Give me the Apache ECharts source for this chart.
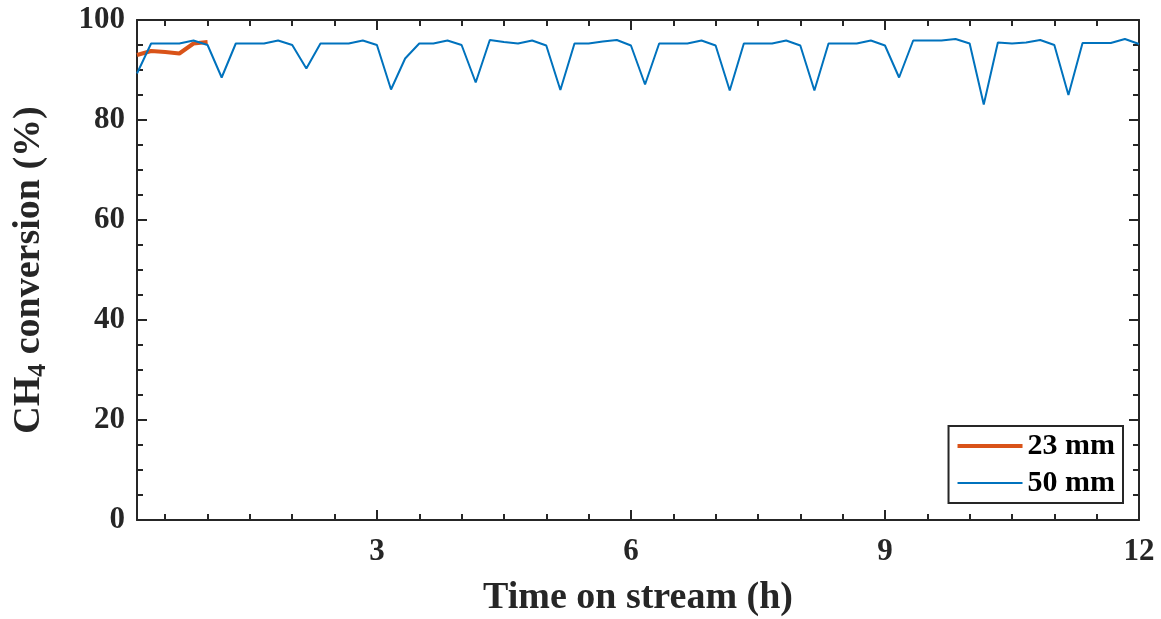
<!DOCTYPE html>
<html>
<head>
<meta charset="utf-8">
<script src="https://cdn.jsdelivr.net/npm/echarts@6/dist/echarts.min.js"></script>
<style>html,body{margin:0;padding:0;background:#fff;}#c{width:1161px;height:619px;}</style>
</head>
<body>
<div id="c"></div>
<script>
// Time on stream, minutes (sampled every 10 min)
const timeMin = [10,20,30,40,50,60,70,80,90,100,110,120,130,140,150,160,170,180,
  190,200,210,220,230,240,250,260,270,280,290,300,310,320,330,340,350,360,
  370,380,390,400,410,420,430,440,450,460,470,480,490,500,510,520,530,540,
  550,560,570,580,590,600,610,620,630,640,650,660,670,680,690,700,710,720];
const time23Min = [10,20,30,40,50,60];
// CH4 conversion (%)
const conv23 = [93.0,93.8,93.6,93.3,95.3,95.6];
const conv50 = [89.3,95.3,95.3,95.3,95.9,95.0,
  88.5,95.3,95.3,95.3,95.9,95.0,
  90.3,95.3,95.3,95.3,95.9,95.0,
  86.1,92.3,95.3,95.3,95.9,95.0,
  87.5,96.0,95.6,95.3,95.9,94.9,
  86.0,95.3,95.3,95.7,96.0,94.9,
  87.1,95.3,95.3,95.3,95.9,94.9,
  85.9,95.3,95.3,95.3,95.9,94.9,
  85.9,95.3,95.3,95.3,95.9,94.9,
  88.5,95.9,95.9,95.9,96.2,95.3,
  83.1,95.5,95.3,95.5,96.0,95.0,
  85.0,95.4,95.4,95.4,96.2,95.2];
const seriesNames = ['23 mm','50 mm'];
const xMajorTicks = [3,6,9,12];
const xMinorTicks = [0.5,1,1.5,2,2.5,3.5,4,4.5,5,5.5,6.5,7,7.5,8,8.5,9.5,10,10.5,11,11.5];
const xTitle = 'Time on stream (h)';

const toH = m => m / 60;
const FONT = '"Liberation Serif", "Times New Roman", serif';
const INK = '#262626';
const XMIN = toH(timeMin[0]), XMAX = 12;

function xAxisDef(pos, ticks, len, opts) {
  return Object.assign({
    type: 'value', position: pos, min: XMIN, max: XMAX,
    axisLine: { show: false, onZero: false },
    axisTick: { show: true, inside: true, length: len, customValues: ticks, lineStyle: { color: INK, width: 2 } },
    axisLabel: { show: false },
    splitLine: { show: false }
  }, opts || {});
}
function yAxisDef(pos, opts) {
  return Object.assign({
    type: 'value', position: pos, min: 0, max: 100, interval: 20,
    axisLine: { show: true, onZero: false, lineStyle: { color: INK, width: 2 } },
    axisTick: { show: true, inside: true, length: 10, lineStyle: { color: INK, width: 2 } },
    minorTick: { show: true, splitNumber: 4, length: 6, lineStyle: { color: INK, width: 2 } },
    axisLabel: { show: false },
    splitLine: { show: false },
    minorSplitLine: { show: false }
  }, opts || {});
}

const chart = echarts.init(document.getElementById('c'), null, { renderer: 'canvas' });
chart.setOption({
  backgroundColor: '#ffffff',
  animation: false,
  textStyle: { fontFamily: FONT },
  grid: { left: 137, right: 22, top: 20, bottom: 99, containLabel: false, outerBoundsMode: 'none' },
  xAxis: [
    xAxisDef('bottom', xMajorTicks, 10, {
      axisLine: { show: true, onZero: false, lineStyle: { color: INK, width: 2 } },
      axisLabel: { show: true, customValues: xMajorTicks, color: INK, fontSize: 31, fontWeight: 'bold', fontFamily: FONT, margin: 16 },
      name: xTitle, nameLocation: 'middle', nameGap: 59,
      nameTextStyle: { color: INK, fontSize: 38, fontWeight: 'bold', fontFamily: FONT }
    }),
    xAxisDef('bottom', xMinorTicks, 6),
    xAxisDef('top', xMajorTicks, 10, {
      axisLine: { show: true, onZero: false, lineStyle: { color: INK, width: 2 } }
    }),
    xAxisDef('top', xMinorTicks, 6)
  ],
  yAxis: [
    yAxisDef('left', {
      axisLabel: { show: true, color: INK, fontSize: 31, fontWeight: 'bold', fontFamily: FONT, margin: 12 },
      name: '{a|CH}{b|4}{a| conversion (%)}',
      nameLocation: 'middle', nameRotate: 90, nameGap: 86,
      nameTextStyle: {
        rich: {
          a: { fontSize: 38, fontWeight: 'bold', fontFamily: FONT, color: INK, lineHeight: 44 },
          b: { fontSize: 26, fontWeight: 'bold', fontFamily: FONT, color: INK, lineHeight: 24, verticalAlign: 'bottom' }
        }
      }
    }),
    yAxisDef('right')
  ],
  legend: {
    show: true,
    data: [
      { name: seriesNames[0], itemStyle: { opacity: 0 }, lineStyle: { width: 4, color: '#D95319' } },
      { name: seriesNames[1], itemStyle: { opacity: 0 }, lineStyle: { width: 2, color: '#0072BD' } }
    ],
    orient: 'vertical', right: 38, top: 426,
    itemWidth: 65, itemHeight: 14, itemGap: 7,
    padding: [5, 8, 5, 7],
    backgroundColor: '#ffffff', borderColor: INK, borderWidth: 2, borderRadius: 0,
    textStyle: { fontSize: 30, fontWeight: 'bold', fontFamily: FONT, color: '#000', lineHeight: 30 },
    selectedMode: false
  },
  series: [
    {
      name: seriesNames[0], type: 'line', xAxisIndex: 0, yAxisIndex: 0,
      data: time23Min.map((t, i) => [toH(t), conv23[i]]),
      showSymbol: false, symbol: 'none',
      lineStyle: { color: '#D95319', width: 4 }, itemStyle: { color: '#D95319' }, z: 3
    },
    {
      name: seriesNames[1], type: 'line', xAxisIndex: 0, yAxisIndex: 0,
      data: timeMin.map((t, i) => [toH(t), conv50[i]]),
      showSymbol: false, symbol: 'none',
      lineStyle: { color: '#0072BD', width: 2 }, itemStyle: { color: '#0072BD' }, z: 4
    }
  ]
});
</script>
</body>
</html>
